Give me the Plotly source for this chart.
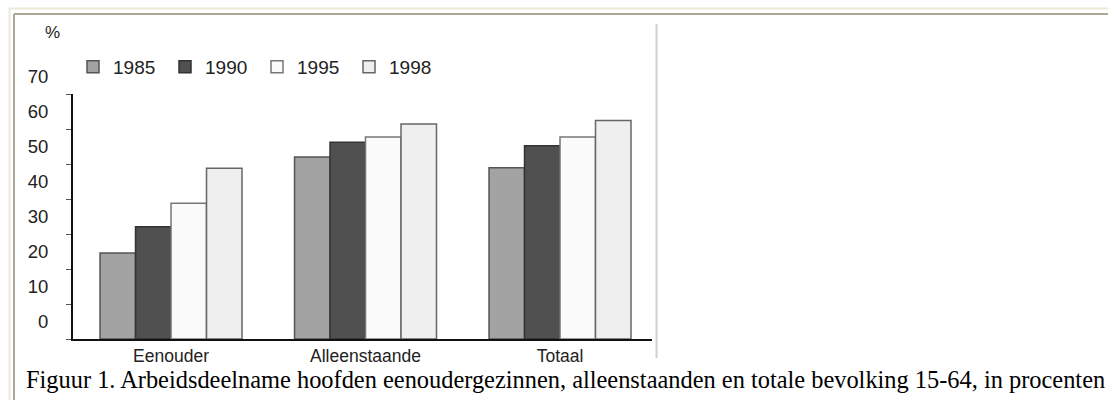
import plotly.graph_objects as go

categories = ["Eenouder", "Alleenstaande", "Totaal"]
years = ["1985", "1990", "1995", "1998"]
values = {
    "1985": [24.6, 52.0, 48.9],
    "1990": [32.1, 56.2, 55.2],
    "1995": [38.8, 57.7, 57.7],
    "1998": [48.8, 61.4, 62.4],
}
fill_colors = {"1985": "#a3a3a3", "1990": "#505050", "1995": "#fafafa", "1998": "#efefef"}
line_colors = {"1985": "#555555", "1990": "#333333", "1995": "#777777", "1998": "#666666"}
y_ticks = [0, 10, 20, 30, 40, 50, 60, 70]
caption = "Figuur 1. Arbeidsdeelname hoofden eenoudergezinnen, alleenstaanden en totale bevolking 15-64, in procenten"

W, H = 1108, 400
L, R, T, B = 73, 652, 94, 339  # plot area in pixels


def px(x):
    return (x - L) / (R - L)


def py(y):
    return (B - y) / (B - T)


fig = go.Figure()
for yr in years:
    fig.add_trace(go.Bar(
        x=categories, y=values[yr], name=yr,
        marker=dict(color=fill_colors[yr], line=dict(color=line_colors[yr], width=1.5)),
    ))

sans = "Liberation Sans, Arial, sans-serif"

shapes = [
    dict(type="line", xref="paper", yref="paper", x0=px(9), x1=px(1108), y0=py(8.5), y1=py(8.5),
         line=dict(color="#ece9d8", width=2)),
    dict(type="line", xref="paper", yref="paper", x0=px(9.5), x1=px(9.5), y0=py(8), y1=py(400),
         line=dict(color="#ece9d8", width=2)),
    dict(type="line", xref="paper", yref="paper", x0=px(14), x1=px(1108), y0=py(14), y1=py(14),
         line=dict(color="#aca899", width=2)),
    dict(type="line", xref="paper", yref="paper", x0=px(14), x1=px(14), y0=py(14), y1=py(400),
         line=dict(color="#aca899", width=2)),
    dict(type="line", xref="paper", yref="paper", x0=px(656.5), x1=px(656.5), y0=py(24), y1=py(358),
         line=dict(color="#d0d0d0", width=2)),
]

annotations = [
    dict(text="%", xref="paper", yref="paper", x=px(52), y=py(32), xanchor="center", yanchor="middle",
         showarrow=False, font=dict(family=sans, size=17, color="#222222")),
    dict(text=caption, xref="paper", yref="paper", x=px(24), y=py(379), xanchor="left", yanchor="middle",
         showarrow=False, font=dict(family="Liberation Serif, Times New Roman, serif", size=24.4, color="#000000")),
]

fig.update_layout(
    width=W, height=H,
    margin=dict(l=L, r=W - R, t=T, b=H - B, pad=0),
    paper_bgcolor="white", plot_bgcolor="white",
    barmode="group", bargap=0.27, bargroupgap=0,
    font=dict(family=sans, size=16, color="#222222"),
    showlegend=True,
    legend=dict(orientation="h", x=px(73), xanchor="left", y=py(67), yanchor="middle",
                font=dict(family=sans, size=19, color="#222222"),
                entrywidth=47, entrywidthmode="pixels", bgcolor="rgba(0,0,0,0)",
                itemclick=False),
    xaxis=dict(range=[-0.504, 2.473], showline=True, linewidth=2, linecolor="#111111",
               ticks="", showgrid=False, zeroline=False,
               tickfont=dict(family=sans, size=17.5, color="#222222")),
    yaxis=dict(range=[0, 70], tickvals=y_ticks, showline=True, linewidth=2, linecolor="#111111",
               ticks="outside", ticklen=5, tickcolor="#555555", tickwidth=1,
               showgrid=False, zeroline=False,
               ticklabelshift=-17, ticklabelstandoff=14,
               tickfont=dict(family=sans, size=18.5, color="#222222")),
    shapes=shapes,
    annotations=annotations,
)

fig.write_html("out.html", config={"displayModeBar": False},
               post_script="document.body.style.margin='0';")
